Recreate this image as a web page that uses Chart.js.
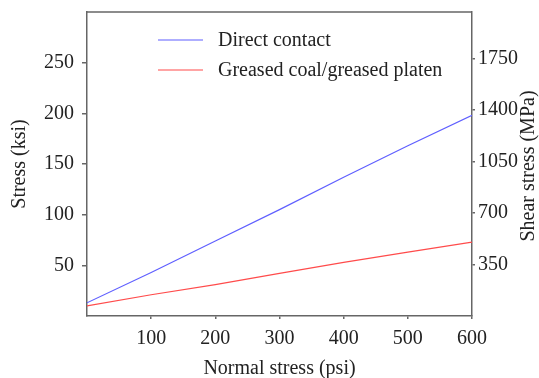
<!DOCTYPE html>
<html>
<head>
<meta charset="utf-8">
<script src="https://cdn.jsdelivr.net/npm/chart.js@4.4.1/dist/chart.umd.min.js"></script>
<style>
  html, body { margin: 0; padding: 0; background: #fff; }
  #wrap { width: 539px; height: 378px; }
</style>
</head>
<body>
<div id="wrap"><canvas id="chartStress" width="539" height="378"></canvas></div>
<script>
// valores
const normalStress = [0, 100, 200, 300, 400, 500, 600];        // psi
const directContact = [13, 43, 74, 105, 137, 168, 198];        // ksi
const greasedPlaten = [10, 21, 31, 42, 53, 63, 73];            // ksi

const seriesLabels = ["Direct contact", "Greased coal/greased platen"];
const xTicks = [100, 200, 300, 400, 500, 600];
const yTicks = [50, 100, 150, 200, 250];
const y2Ticks = [350, 700, 1050, 1400, 1750];

const KSI_TO_MPA = 6.894757;
const Y_MAX = 300;

const FONT = "'Liberation Serif', 'Times New Roman', serif";
const AXIS_COLOR = "#666";
const TEXT_COLOR = "#222";

function toPoints(xs, ys) {
  return xs.map((x, i) => ({ x: x, y: ys[i] }));
}

function keepTicks(list) {
  return (axis) => {
    axis.ticks = list.map(v => ({ value: v }));
  };
}

function noPad(axis) {
  axis.paddingTop = 0;
  axis.paddingBottom = 0;
  axis.paddingLeft = 0;
  axis.paddingRight = 0;
}

// legenda empilhada dentro da área do gráfico + título do eixo direito
const extras = {
  id: "extras",
  afterDraw(chart) {
    const c = chart.ctx;
    const area = chart.chartArea;
    c.save();

    // borda de cima
    c.strokeStyle = AXIS_COLOR;
    c.lineWidth = 1.5;
    c.beginPath();
    c.moveTo(area.left, area.top);
    c.lineTo(area.right, area.top);
    c.stroke();

    // legenda
    c.font = "20px " + FONT;
    c.textBaseline = "middle";
    c.textAlign = "left";
    const rows = [40, 70];
    chart.data.datasets.forEach((ds, i) => {
      const y = rows[i];
      c.strokeStyle = ds.borderColor;
      c.lineWidth = 1.2;
      c.beginPath();
      c.moveTo(158, y);
      c.lineTo(203, y);
      c.stroke();
      c.fillStyle = TEXT_COLOR;
      c.fillText(ds.label, 218, y + 1);
    });

    // título do eixo direito (mesma rotação do esquerdo)
    c.translate(529, 166);
    c.rotate(-Math.PI / 2);
    c.textAlign = "center";
    c.fillText("Shear stress (MPa)", 0, 0);
    c.restore();
  }
};

const ctx = document.getElementById("chartStress").getContext("2d");

new Chart(ctx, {
  type: "scatter",
  data: {
    datasets: [{
      label: seriesLabels[0],
      data: toPoints(normalStress, directContact),
      showLine: true,
      borderColor: "rgb(95,95,255)",
      borderWidth: 1.2,
      pointRadius: 0,
      yAxisID: "y"
    }, {
      label: seriesLabels[1],
      data: toPoints(normalStress, greasedPlaten),
      showLine: true,
      borderColor: "rgb(255,75,75)",
      borderWidth: 1.2,
      pointRadius: 0,
      yAxisID: "y"
    }]
  },
  options: {
    responsive: false,
    animation: false,
    layout: { padding: { top: 12, left: 0, right: 0, bottom: 0 } },
    plugins: {
      legend: { display: false },
      tooltip: { enabled: false }
    },
    scales: {
      x: {
        type: "linear",
        min: 0,
        max: 600,
        afterBuildTicks: keepTicks(xTicks),
        afterFit: (axis) => { axis.height = 62; noPad(axis); },
        grid: { drawOnChartArea: false, color: AXIS_COLOR, tickLength: 3, lineWidth: 1.5 },
        border: { color: AXIS_COLOR, width: 1.5 },
        ticks: { color: TEXT_COLOR, padding: 8, font: { family: FONT, size: 20 }, maxRotation: 0 },
        title: {
          display: true,
          text: "Normal stress (psi)",
          color: TEXT_COLOR,
          font: { family: FONT, size: 20 },
          padding: { top: 0, bottom: -3 }
        }
      },
      y: {
        position: "left",
        min: 0,
        max: Y_MAX,
        afterBuildTicks: keepTicks(yTicks),
        afterFit: (axis) => { axis.width = 87; noPad(axis); },
        grid: { drawOnChartArea: false, color: AXIS_COLOR, tickLength: 5, lineWidth: 1.5 },
        border: { color: AXIS_COLOR, width: 1.5 },
        ticks: { color: TEXT_COLOR, padding: 8, font: { family: FONT, size: 20 } },
        title: {
          display: true,
          text: "Stress (ksi)",
          color: TEXT_COLOR,
          font: { family: FONT, size: 20 },
          padding: { top: 8, bottom: 0 }
        }
      },
      y2: {
        position: "right",
        min: 0,
        max: Y_MAX * KSI_TO_MPA,
        afterBuildTicks: keepTicks(y2Ticks),
        afterFit: (axis) => { axis.width = 67; noPad(axis); },
        grid: { drawOnChartArea: false, color: AXIS_COLOR, tickLength: 3, lineWidth: 1.5 },
        border: { color: AXIS_COLOR, width: 1.5 },
        ticks: {
          color: TEXT_COLOR,
          padding: 3,
          font: { family: FONT, size: 20 },
          callback: (v) => String(v)
        }
      }
    }
  },
  plugins: [extras]
});
</script>
</body>
</html>
